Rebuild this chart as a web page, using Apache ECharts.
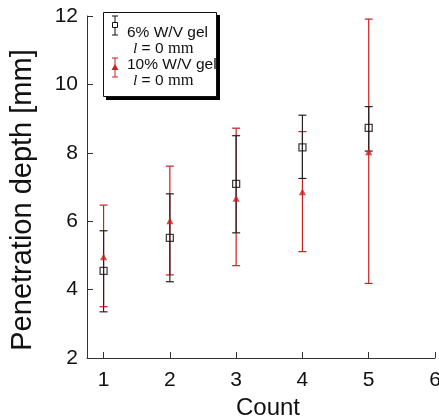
<!DOCTYPE html>
<html>
<head>
<meta charset="utf-8">
<script src="https://cdn.jsdelivr.net/npm/echarts@6/dist/echarts.min.js"></script>
<style>
html,body{margin:0;padding:0;background:#fff;}
#main{width:439px;height:416px;}
</style>
</head>
<body>
<div id="main"></div>
<script>
// data
var counts = [1, 2, 3, 4, 5];
var gel6Mean = [4.55, 5.51, 7.09, 8.16, 8.73];
var gel6Low = [3.35, 4.23, 5.66, 7.25, 8.05];
var gel6High = [5.72, 6.80, 8.50, 9.10, 9.35];
var gel10Mean = [4.96, 6.01, 6.67, 6.86, 8.03];
var gel10Low = [3.50, 4.43, 4.70, 5.11, 4.18];
var gel10High = [6.47, 7.61, 8.72, 8.62, 11.91];
var yTicks = [2, 4, 6, 8, 10, 12];

var RED = '#cc1f1f';
var FONT = '"Liberation Sans", Arial, sans-serif';
var SERIF = '"Liberation Serif", "Times New Roman", serif';

function pairs(xs, ys){
    var out = [];
    for (var i = 0; i < xs.length; i++) out.push([xs[i], ys[i]]);
    return out;
}
function bars(xs, lo, hi){
    var out = [];
    for (var i = 0; i < xs.length; i++) out.push([xs[i], lo[i], hi[i]]);
    return out;
}

//误差线
function errorBar(color){
    return function(params, api){
        var top = api.coord([api.value(0), api.value(2)]);
        var bot = api.coord([api.value(0), api.value(1)]);
        var w = 4;
        var st = {stroke: color, lineWidth: 1.2};
        return {
            type: 'group',
            children: [
                {type: 'line', shape: {x1: top[0], y1: top[1], x2: bot[0], y2: bot[1]}, style: st},
                {type: 'line', shape: {x1: top[0]-w, y1: top[1], x2: top[0]+w, y2: top[1]}, style: st},
                {type: 'line', shape: {x1: bot[0]-w, y1: bot[1], x2: bot[0]+w, y2: bot[1]}, style: st}
            ]
        };
    };
}

function lenText(y, fs){
    return {type: 'text', x: 30, y: y, style: {
        text: '{i|l} = 0 {s|mm}', font: fs + 'px ' + FONT, fill: '#111', verticalAlign: 'middle',
        rich: {
            i: {fontFamily: SERIF, fontStyle: 'italic', fontSize: fs},
            s: {fontFamily: SERIF, fontSize: fs + 1}
        }}};
}

var myChart = echarts.init(document.getElementById('main'));

var option = {
    backgroundColor: '#fff',
    animation: false,
    grid: {left: 87, top: 16, right: 4, bottom: 58, outerBoundsMode: 'none', containLabel: false},
    xAxis: {
        type: 'value',
        min: 0.75,
        max: 6,
        splitNumber: 5,
        name: 'Count',
        nameLocation: 'middle',
        nameGap: 36,
        nameTextStyle: {fontFamily: FONT, fontSize: 24, color: '#111', padding: [0, 0, 0, 14]},
        axisLine: {lineStyle: {color: '#333', width: 1}},
        axisTick: {inside: true, length: 6, lineStyle: {color: '#333'}},
        axisLabel: {
            showMinLabel: false,
            margin: 12,
            fontFamily: FONT, fontSize: 21, color: '#111',
            formatter: function(v){ return Math.abs(v - Math.round(v)) < 1e-6 ? String(Math.round(v)) : ''; }
        },
        splitLine: {show: false}
    },
    yAxis: {
        type: 'value',
        min: yTicks[0],
        max: yTicks[yTicks.length-1],
        interval: 2,
        name: 'Penetration depth [mm]',
        nameLocation: 'middle',
        nameGap: 50,
        nameTextStyle: {fontFamily: FONT, fontSize: 29, color: '#111', padding: [0, 26, 0, 0]},
        axisLine: {show: true, lineStyle: {color: '#333', width: 1}},
        axisTick: {show: true, inside: true, length: 6, lineStyle: {color: '#333'}},
        axisLabel: {margin: 9, fontFamily: FONT, fontSize: 21, color: '#111'},
        splitLine: {show: false}
    },
    series: [
        {
            type: 'custom',
            name: '10% W/V gel',
            renderItem: errorBar(RED),
            data: bars(counts, gel10Low, gel10High),
            z: 2
        },
        {
            type: 'custom',
            name: '6% W/V gel',
            renderItem: errorBar('#222'),
            data: bars(counts, gel6Low, gel6High),
            z: 3
        },
        {
            type: 'scatter',
            name: '10% W/V gel',
            symbol: 'triangle',
            symbolSize: 7,
            itemStyle: {color: RED},
            data: pairs(counts, gel10Mean),
            z: 4
        },
        {
            type: 'scatter',
            name: '6% W/V gel',
            symbol: 'rect',
            symbolSize: 7,
            itemStyle: {color: 'rgba(255,255,255,0)', borderColor: '#111', borderWidth: 1.3},
            data: pairs(counts, gel6Mean),
            z: 5
        }
    ],
    graphic: [
        {
            type: 'group',
            x: 103,
            y: 12,
            z: 10,
            children: [
                // 阴影
                {type: 'rect', shape: {x: 3, y: 3, width: 114, height: 85}, style: {fill: '#000'}},
                {type: 'rect', shape: {x: 0.5, y: 0.5, width: 113, height: 84}, style: {fill: '#fff', stroke: '#111', lineWidth: 1}},
                // 图例图标
                {type: 'line', shape: {x1: 12, y1: 4, x2: 12, y2: 23}, style: {stroke: '#111', lineWidth: 1}},
                {type: 'line', shape: {x1: 9, y1: 4, x2: 15, y2: 4}, style: {stroke: '#111', lineWidth: 1}},
                {type: 'line', shape: {x1: 9, y1: 23, x2: 15, y2: 23}, style: {stroke: '#111', lineWidth: 1}},
                {type: 'rect', shape: {x: 9.5, y: 10.5, width: 5, height: 5}, style: {fill: '#fff', stroke: '#111', lineWidth: 1}},
                {type: 'line', shape: {x1: 12, y1: 46, x2: 12, y2: 65}, style: {stroke: RED, lineWidth: 1}},
                {type: 'line', shape: {x1: 9, y1: 46, x2: 15, y2: 46}, style: {stroke: RED, lineWidth: 1}},
                {type: 'line', shape: {x1: 9, y1: 65, x2: 15, y2: 65}, style: {stroke: RED, lineWidth: 1}},
                {type: 'polygon', shape: {points: [[12, 52], [8.5, 58], [15.5, 58]]}, style: {fill: RED}},
                {type: 'text', x: 24, y: 21, style: {text: '6% W/V gel', font: '15.5px ' + FONT, fill: '#111', verticalAlign: 'middle'}},
                lenText(36.5, 15.5),
                {type: 'text', x: 24, y: 53, style: {text: '10% W/V gel', font: '15.5px ' + FONT, fill: '#111', verticalAlign: 'middle'}},
                lenText(68.5, 15.5)
            ]
        }
    ]
};
myChart.setOption(option);
</script>
</body>
</html>
